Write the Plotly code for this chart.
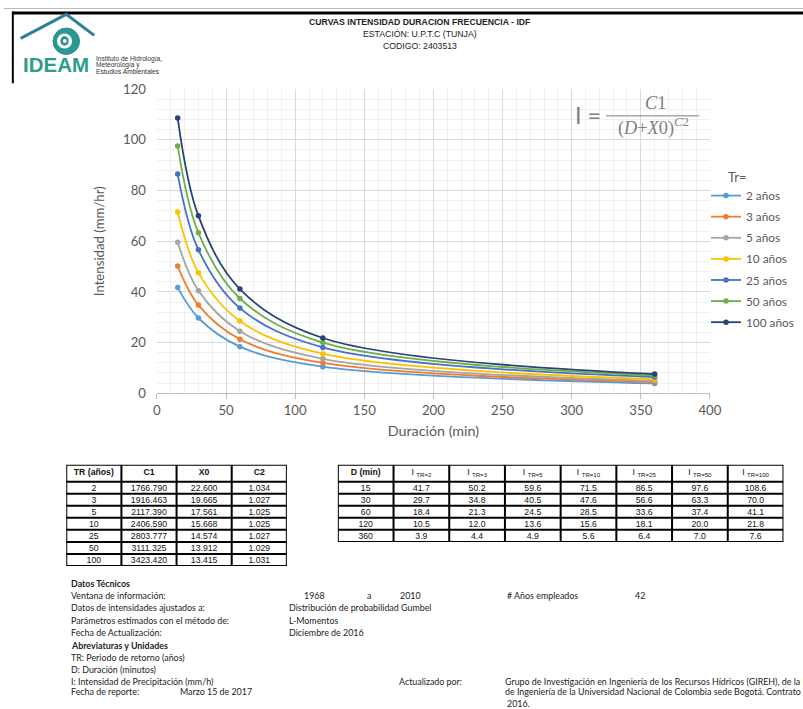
import plotly.graph_objects as go

W, H = 818, 722

# ---------------- data ----------------
durations = [15, 30, 60, 120, 360]
series_names = ["2 años", "3 años", "5 años", "10 años", "25 años", "50 años", "100 años"]
i_tr2 = [41.7, 29.7, 18.4, 10.5, 3.9]
i_tr3 = [50.2, 34.8, 21.3, 12.0, 4.4]
i_tr5 = [59.6, 40.5, 24.5, 13.6, 4.9]
i_tr10 = [71.5, 47.6, 28.5, 15.6, 5.6]
i_tr25 = [86.5, 56.6, 33.6, 18.1, 6.4]
i_tr50 = [97.6, 63.3, 37.4, 20.0, 7.0]
i_tr100 = [108.6, 70.0, 41.1, 21.8, 7.6]
series_values = [i_tr2, i_tr3, i_tr5, i_tr10, i_tr25, i_tr50, i_tr100]
series_colors = ["#5B9BD5", "#ED7D31", "#A5A5A5", "#FFC000", "#4472C4", "#70AD47", "#264478"]

tr_years = [2, 3, 5, 10, 25, 50, 100]
c1_values = [1766.790, 1916.463, 2117.390, 2406.590, 2803.777, 3111.325, 3423.420]
x0_values = [22.600, 19.665, 17.561, 15.668, 14.574, 13.912, 13.415]
c2_values = [1.034, 1.027, 1.025, 1.025, 1.027, 1.029, 1.031]
tr_sub_labels = ["2", "3", "5", "10", "25", "50", "100"]
param_headers = ["TR (años)", "C1", "X0", "C2"]

x_ticks = [0, 50, 100, 150, 200, 250, 300, 350, 400]
y_ticks = [0, 20, 40, 60, 80, 100, 120]


def px(x):
    return x / W


def py(y):
    return 1 - y / H


fig = go.Figure()

for name, vals, col in zip(series_names, series_values, series_colors):
    fig.add_trace(go.Scatter(
        x=durations, y=vals, name=name, mode="lines+markers", legendgroup=name,
        line=dict(color=col, width=1.8, shape="spline", smoothing=1.0),
        marker=dict(color=col, size=5.5),
        xaxis="x", yaxis="y",
    ))

shapes = []
annotations = []

# ---------------- tables drawn on hidden axes ----------------
HDR = 17.5 / 12.3  # header row height in row units
tfont_tbl = dict(family="Liberation Sans", size=8.7, color="#111")


def add_table(xa, ya, columns, headers):
    ncol = len(columns)
    nrow = len(columns[0])
    xs, ys, ts = [], [], []
    for c in range(ncol):
        xs.append(c + 0.5)
        ys.append(HDR / 2)
        ts.append(headers[c])
        for r in range(nrow):
            xs.append(c + 0.5)
            ys.append(HDR + r + 0.55)
            ts.append(columns[c][r])
    fig.add_trace(go.Scatter(x=xs, y=ys, text=ts, mode="text", textposition="middle center",
                             textfont=tfont_tbl, xaxis=xa, yaxis=ya, showlegend=False,
                             hoverinfo="skip", cliponaxis=False))
    xr = xa.replace("axis", "")
    yr = ya.replace("axis", "")
    total = HDR + nrow
    for c in range(ncol + 1):
        shapes.append(dict(type="line", xref=xr, yref=yr, x0=c, x1=c, y0=0, y1=total,
                           line=dict(color="black", width=2)))
    hlines = [0, HDR] + [HDR + r for r in range(1, nrow + 1)]
    for h in hlines:
        shapes.append(dict(type="line", xref=xr, yref=yr, x0=0, x1=ncol, y0=h, y1=h,
                           line=dict(color="black", width=2)))
    return total


t1_cols = [[str(t) for t in tr_years],
           [f"{v:.3f}" for v in c1_values],
           [f"{v:.3f}" for v in x0_values],
           [f"{v:.3f}" for v in c2_values]]
t1_total = add_table("x2", "y2", t1_cols, [f"<b>{h}</b>" for h in param_headers])

t2_cols = [[str(d) for d in durations]] + [[f"{v:.1f}" for v in vals] for vals in series_values]
t2_heads = ["<b>D (min)</b>"] + [f"I <sub>TR={s}</sub>" for s in tr_sub_labels]
t2_total = add_table("x3", "y3", t2_cols, t2_heads)

# page border lines
shapes.append(dict(type="line", xref="paper", yref="paper", x0=0, x1=1, y0=py(0.5), y1=py(0.5),
                   line=dict(color="#BBBBBB", width=1)))
shapes.append(dict(type="line", xref="paper", yref="paper", x0=px(9), x1=1, y0=py(5), y1=py(5),
                   line=dict(color="black", width=3)))
shapes.append(dict(type="line", xref="paper", yref="paper", x0=px(9), x1=px(9), y0=py(3.5), y1=py(77),
                   line=dict(color="black", width=2)))

# logo: roof
shapes.append(dict(type="path", xref="paper", yref="paper",
                   path=f"M {px(17)},{py(31)} L {px(63.5)},{py(6.5)} L {px(92)},{py(28)}",
                   line=dict(color="#2C7F96", width=3)))
# logo: eye
shapes.append(dict(type="circle", xref="paper", yref="paper",
                   x0=px(50), x1=px(77), y0=py(47.5), y1=py(20.5),
                   fillcolor="#2B9A8E", line=dict(color="#2B8A96", width=1)))
shapes.append(dict(type="circle", xref="paper", yref="paper",
                   x0=px(54), x1=px(69.5), y0=py(41.5), y1=py(26),
                   fillcolor="white", line=dict(width=0)))
shapes.append(dict(type="circle", xref="paper", yref="paper",
                   x0=px(57.5), x1=px(66), y0=py(38.5), y1=py(29),
                   fillcolor="#2B8A96", line=dict(width=0)))
shapes.append(dict(type="circle", xref="paper", yref="paper",
                   x0=px(60), x1=px(64), y0=py(35.8), y1=py(31.8),
                   fillcolor="white", line=dict(width=0)))
annotations.append(dict(text="<b>IDEAM</b>", x=px(17.5), y=py(57.5), xref="paper", yref="paper",
                        xanchor="left", yanchor="middle", showarrow=False,
                        font=dict(family="Liberation Sans", size=20.5, color="#2E9C8A")))
for i, t in enumerate(["Instituto de Hidrología,", "Meteorología y", "Estudios Ambientales"]):
    annotations.append(dict(text=t, x=px(92), y=py(52.5 + i * 6.1), xref="paper", yref="paper",
                            xanchor="left", yanchor="middle", showarrow=False,
                            font=dict(family="Liberation Sans", size=6.6, color="#333")))

# header titles
for txt, yy in [("<b>CURVAS INTENSIDAD DURACION FRECUENCIA - IDF</b>", 14.5),
                ("ESTACIÓN: U.P.T.C (TUNJA)", 26.5), ("CODIGO: 2403513", 38.5)]:
    annotations.append(dict(text=txt, x=px(424), y=py(yy), xref="paper", yref="paper",
                            showarrow=False, xanchor="center", yanchor="middle",
                            font=dict(family="Liberation Sans", size=8.7, color="#222")))

# formula
fgray = "#7F7F7F"
annotations.append(dict(text="I =", x=px(580), y=py(109.5), xref="paper", yref="paper", showarrow=False,
                        xanchor="left", yanchor="middle",
                        font=dict(family="Lato", size=23.5, color=fgray)))
annotations.append(dict(text="<i>C</i>1", x=px(664), y=py(97), xref="paper", yref="paper", showarrow=False,
                        xanchor="center", yanchor="middle",
                        font=dict(family="Liberation Serif", size=18.3, color=fgray)))
annotations.append(dict(text="(<i>D</i>+<i>X</i>0)<sup><i>C</i>2</sup>", x=px(662), y=py(121.5), xref="paper",
                        yref="paper", showarrow=False, xanchor="center", yanchor="middle",
                        font=dict(family="Liberation Serif", size=18.3, color=fgray)))
shapes.append(dict(type="line", xref="paper", yref="paper", x0=px(614), x1=px(709), y0=py(110.3), y1=py(110.3),
                   line=dict(color=fgray, width=1)))

# legend title
annotations.append(dict(text="Tr=", x=px(736.5), y=py(172.5), xref="paper", yref="paper", showarrow=False,
                        xanchor="left", yanchor="middle",
                        font=dict(family="Lato", size=13, color="#595959")))

# bottom text
tfont = dict(family="Lato", size=8.9, color="#222")
rows_y = [589, 601, 613.3, 626.6, 638.8, 652, 664.2, 676.5, 688.5, 699.5, 711.3]
bottom_lines = [
    (66.5, 0, "<b>Datos Técnicos</b>"),
    (66.5, 1, "Ventana de información:"),
    (304, 1, "1968"), (368, 1, "a"), (401.5, 1, "2010"),
    (510.5, 1, "# Años empleados"), (642, 1, "42"),
    (66.5, 2, "Datos de intensidades ajustados a:"),
    (288.5, 2, "Distribución de probabilidad Gumbel"),
    (66.5, 3, "Parámetros estimados con el método de:"),
    (288.5, 3, "L-Momentos"),
    (66.5, 4, "Fecha de Actualización:"),
    (288.5, 4, "Diciembre de 2016"),
    (66.5, 5, "<b>Abreviaturas y Unidades</b>"),
    (66.5, 6, "TR: Periodo de retorno (años)"),
    (66.5, 7, "D: Duración (minutos)"),
    (66.5, 8, "I: Intensidad de Precipitación (mm/h)"),
    (400.5, 8, "Actualizado por:"),
    (66.5, 9, "Fecha de reporte:"),
    (177.5, 9, "Marzo 15 de 2017"),
    (510.5, 10, "2016."),
]
for x, r, t in bottom_lines:
    annotations.append(dict(text=t, x=px(x), y=py(rows_y[r]), xref="paper", yref="paper", showarrow=False,
                            xanchor="left", yanchor="middle", font=tfont))
# long lines clipped at the page edge, as in the scanned sheet
for r, t in [(8, "Grupo de Investigación en Ingeniería de los Recursos Hídricos (GIREH), de la Fac"),
             (9, "de Ingeniería de la Universidad Nacional de Colombia sede Bogotá. Contrato 11")]:
    annotations.append(dict(text=t, x=px(509.5), y=py(rows_y[r]), xref="paper", yref="paper", showarrow=False,
                            xanchor="left", yanchor="middle", align="left", width=307,
                            borderpad=0, font=tfont))

gfont = dict(family="Lato", size=13.2, color="#595959")
hidden = dict(visible=False, showgrid=False, zeroline=False, fixedrange=True)
fig.update_layout(
    width=W, height=H,
    margin=dict(l=0, r=0, t=0, b=0),
    paper_bgcolor="white", plot_bgcolor="white",
    showlegend=True,
    xaxis=dict(domain=[px(156), px(720)], range=[0, 400], tickvals=x_ticks,
               showgrid=True, gridcolor="#D9D9D9", gridwidth=1,
               minor=dict(dtick=10, showgrid=True, gridcolor="#F0F0F0", gridwidth=1),
               zeroline=False, showline=True, linecolor="#BFBFBF", linewidth=1,
               ticks="outside", ticklen=5, tickcolor="#BFBFBF",
               tickfont=gfont, anchor="y",
               title=dict(text="Duración (min)", font=dict(family="Lato", size=14.3, color="#595959"), standoff=8)),
    yaxis=dict(domain=[py(394), py(83)], range=[0, 120], tickvals=y_ticks,
               showgrid=True, gridcolor="#D9D9D9", gridwidth=1,
               minor=dict(dtick=4, showgrid=True, gridcolor="#F0F0F0", gridwidth=1),
               zeroline=False, showline=False, ticks="", tickfont=gfont, anchor="x",
               ticklabelstandoff=10,
               title=dict(text="Intensidad (mm/hr)", font=dict(family="Lato", size=13.2, color="#595959"), standoff=15)),
    xaxis2=dict(domain=[px(63.5), px(288.5)], range=[0, 4], anchor="y2", **hidden),
    yaxis2=dict(domain=[py(467 + 17.5 + 7 * 12.3), py(467)], range=[t1_total, 0], anchor="x2", **hidden),
    xaxis3=dict(domain=[px(340.5), px(795)], range=[0, 8], anchor="y3", **hidden),
    yaxis3=dict(domain=[py(467 + 17.5 + 5 * 12.3), py(467)], range=[t2_total, 0], anchor="x3", **hidden),
    legend=dict(x=px(716), y=py(177), xanchor="left", yanchor="top",
                font=dict(family="Lato", size=11.8, color="#595959"),
                itemwidth=30, tracegroupgap=2.1, bgcolor="rgba(0,0,0,0)", borderwidth=0),
    shapes=shapes,
    annotations=annotations,
)

fig.write_html(
    "out.html",
    config={"displayModeBar": False},
    post_script=("document.documentElement.style.margin='0';document.body.style.margin='0';"
                 "document.body.style.padding='0';document.documentElement.style.overflow='hidden';"
                 "document.body.style.overflow='hidden';"
                 "document.querySelectorAll('svg').forEach(function(s){s.style.overflow='hidden';});"),
)
